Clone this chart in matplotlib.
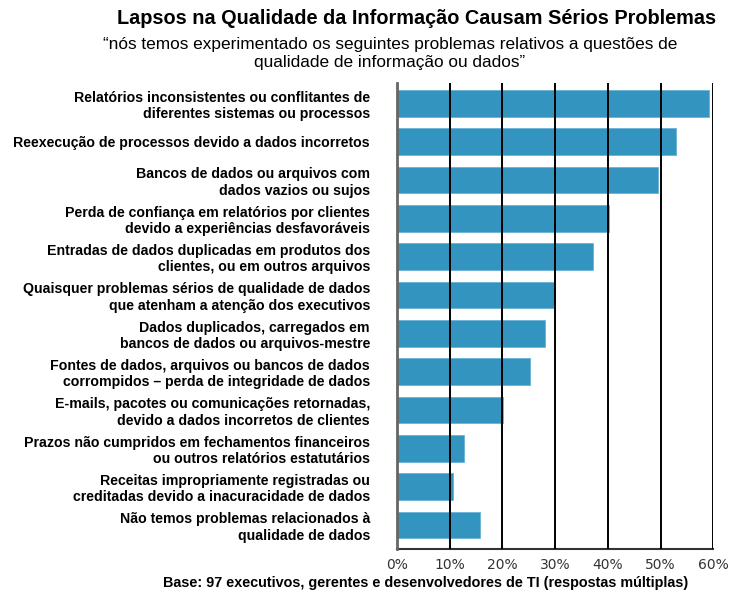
import matplotlib
matplotlib.use("Agg")
import matplotlib.pyplot as plt

categories = [
    "Relatórios inconsistentes ou conflitantes de\ndiferentes sistemas ou processos",
    "Reexecução de processos devido a dados incorretos",
    "Bancos de dados ou arquivos com\ndados vazios ou sujos",
    "Perda de confiança em relatórios por clientes\ndevido a experiências desfavoráveis",
    "Entradas de dados duplicadas em produtos dos\nclientes, ou em outros arquivos",
    "Quaisquer problemas sérios de qualidade de dados\nque atenham a atenção dos executivos",
    "Dados duplicados, carregados em\nbancos de dados ou arquivos-mestre",
    "Fontes de dados, arquivos ou bancos de dados\ncorrompidos – perda de integridade de dados",
    "E-mails, pacotes ou comunicações retornadas,\ndevido a dados incorretos de clientes",
    "Prazos não cumpridos em fechamentos financeiros\nou outros relatórios estatutários",
    "Receitas impropriamente registradas ou\ncreditadas devido a inacuracidade de dados",
    "Não temos problemas relacionados à\nqualidade de dados",
]
values = [59.1, 52.9, 49.6, 40.2, 37.2, 30.0, 28.1, 25.2, 20.1, 12.7, 10.7, 15.8]
xticks = [0, 10, 20, 30, 40, 50, 60]
xticklabels = ["0%", "10%", "20%", "30%", "40%", "50%", "60%"]

title = "Lapsos na Qualidade da Informação Causam Sérios Problemas"
subtitle = "\u201cnós temos experimentado os seguintes problemas relativos a questões de\nqualidade de informação ou dados\u201d"
base = "Base: 97 executivos, gerentes e desenvolvedores de TI (respostas múltiplas)"

fig = plt.figure(figsize=(7.30, 5.93), dpi=100)
ax = fig.add_axes([397/730, 1-549.3/593, (713.3-397)/730, (549.3-83)/593])

pos = list(range(len(values)))
ax.barh(pos, values, height=0.7, color="#3394C0", edgecolor="#6BB3D6", linewidth=0.6, zorder=2)
ax.set_ylim(len(values) - 1 + 0.634, -0.53)
ax.set_xlim(0, 60)

for x in xticks[1:]:
    ax.axvline(x, color="black", lw=1.4, zorder=3)

for s in ["top", "right"]:
    ax.spines[s].set_visible(False)
ax.spines["left"].set_color("#666666")
ax.spines["left"].set_linewidth(2)
ax.spines["left"].set_zorder(4)
ax.spines["bottom"].set_color("#333333")
ax.spines["bottom"].set_linewidth(1.5)

ax.set_yticks(pos)
ax.set_yticklabels(categories, fontsize=10.2, fontweight="bold", family="Liberation Sans",
                   linespacing=1.2)
ax.tick_params(axis="y", length=0, pad=19.5)
ax.set_xticks(xticks)
ax.set_xticklabels(xticklabels, fontsize=10, color="#333333", family="DejaVu Sans")
ax.tick_params(axis="x", length=0, pad=6)

fig.text(417/730, 1-18/593, title, ha="center", va="center", fontsize=14.3,
         fontweight="bold", family="Liberation Sans")
fig.text(390/730, 1-53.5/593, subtitle, ha="center", va="center", fontsize=12.4,
         family="Liberation Sans", linespacing=1.25)
fig.text(426/730, 1-583/593, base, ha="center", va="center", fontsize=10.4,
         fontweight="bold", family="Liberation Sans")

fig.savefig("out.png", dpi=100)
